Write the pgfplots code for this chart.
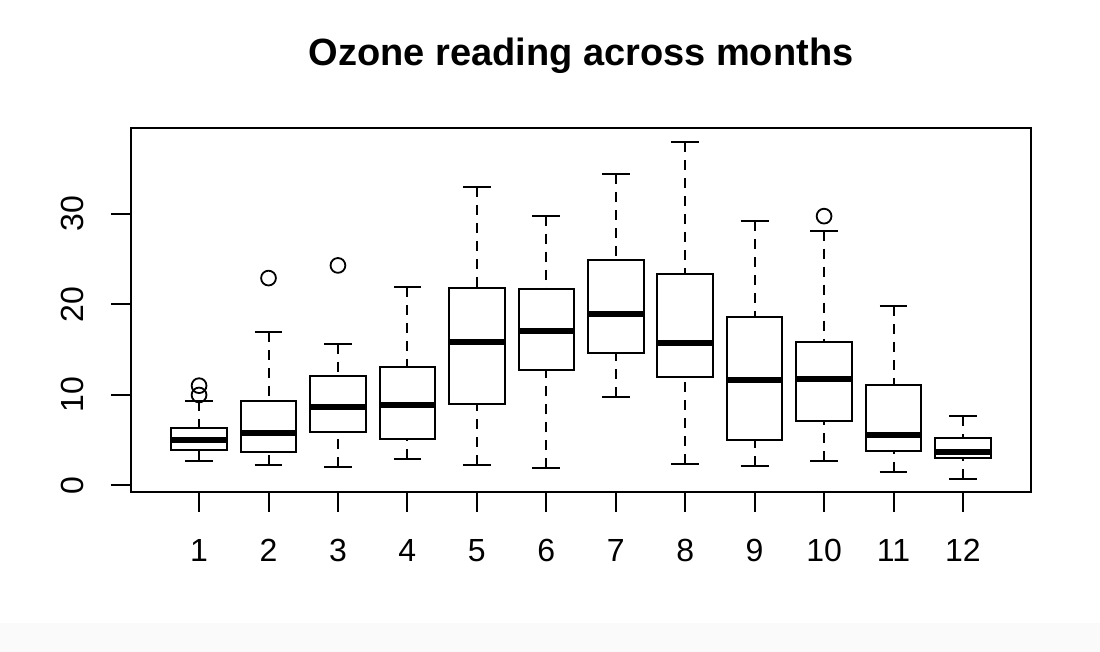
\documentclass[border=0pt]{standalone}
\usepackage{fontspec}
\setmainfont{Liberation Sans}
\usepackage{pgfplots}
\pgfplotsset{compat=1.18}
\usepgfplotslibrary{statistics}

\pgfplotsset{
  rbox/.style={draw=black, line width=1bp, solid, fill=none,
    mark=o, mark size=3.7bp, mark options={solid, draw=black, fill=none, line width=0.9bp}},
}

\begin{document}
\begin{tikzpicture}
\useasboundingbox (0,0) rectangle (550bp,326bp);
\fill[black!2] (0,0) rectangle (550bp,14.5bp);
\begin{axis}[
  at={(65.5bp,80bp)}, anchor=south west,
  width=450bp, height=182bp, scale only axis,
  xmin=0.02, xmax=12.98, ymin=-0.76, ymax=39.5,
  xtick={1,2,3,4,5,6,7,8,9,10,11,12}, ytick={0,10,20,30},
  xtick pos=left, ytick pos=left,
  tick align=outside, major tick length=10bp,
  every tick/.style={black, line width=1bp},
  axis line style={line width=1bp},
  tick label style={font=\fontsize{16bp}{19bp}\selectfont},
  /pgf/number format/assume math mode=true,
  xticklabel style={anchor=base, yshift=-24.8bp},
  yticklabel style={rotate=90, anchor=base, yshift=13.8bp},
  title={Ozone reading across months},
  title style={font=\bfseries\fontsize{19bp}{23bp}\selectfont, at={(0.5,1)}, anchor=base, yshift=25.5bp},
  boxplot/draw direction=y,
  boxplot/box extend=0.8,
  boxplot/whisker extend=0.4,
  boxplot/draw/median/.code={%
    \draw[line width=3bp, solid] (boxplot box cs:\pgfplotsboxplotvalue{median},0) -- (boxplot box cs:\pgfplotsboxplotvalue{median},1);},
  boxplot/draw/lower whisker/.code={%
    \draw[line width=1bp, dash pattern=on 5bp off 4bp] (boxplot cs:\pgfplotsboxplotvalue{lower whisker}) -- (boxplot cs:\pgfplotsboxplotvalue{lower quartile});
    \draw[line width=1bp, solid] (boxplot whisker cs:\pgfplotsboxplotvalue{lower whisker},0) -- (boxplot whisker cs:\pgfplotsboxplotvalue{lower whisker},1);},
  boxplot/draw/upper whisker/.code={%
    \draw[line width=1bp, dash pattern=on 5bp off 4bp] (boxplot cs:\pgfplotsboxplotvalue{upper whisker}) -- (boxplot cs:\pgfplotsboxplotvalue{upper quartile});
    \draw[line width=1bp, solid] (boxplot whisker cs:\pgfplotsboxplotvalue{upper whisker},0) -- (boxplot whisker cs:\pgfplotsboxplotvalue{upper whisker},1);},
]
% month 1
\addplot[rbox, boxplot prepared={draw position=1, lower whisker=2.72, lower quartile=3.9, median=4.94, upper quartile=6.27, upper whisker=9.33}]
  table[row sep=\\, y index=0] {v\\ 11.0\\ 9.97\\};
% month 2
\addplot[rbox, boxplot prepared={draw position=2, lower whisker=2.21, lower quartile=3.65, median=5.82, upper quartile=9.26, upper whisker=16.9}]
  table[row sep=\\, y index=0] {v\\ 22.9\\};
% month 3
\addplot[rbox, boxplot prepared={draw position=3, lower whisker=2.0, lower quartile=5.9, median=8.62, upper quartile=12.1, upper whisker=15.65}]
  table[row sep=\\, y index=0] {v\\ 24.3\\};
% month 4
\addplot[rbox, boxplot prepared={draw position=4, lower whisker=2.91, lower quartile=5.13, median=8.9, upper quartile=13.1, upper whisker=21.9}]
  coordinates {};
% month 5
\addplot[rbox, boxplot prepared={draw position=5, lower whisker=2.28, lower quartile=8.97, median=15.87, upper quartile=21.8, upper whisker=33.0}]
  coordinates {};
% month 6
\addplot[rbox, boxplot prepared={draw position=6, lower whisker=1.84, lower quartile=12.77, median=17.0, upper quartile=21.7, upper whisker=29.8}]
  coordinates {};
% month 7
\addplot[rbox, boxplot prepared={draw position=7, lower whisker=9.78, lower quartile=14.65, median=18.94, upper quartile=24.95, upper whisker=34.36}]
  coordinates {};
% month 8
\addplot[rbox, boxplot prepared={draw position=8, lower whisker=2.36, lower quartile=11.99, median=15.76, upper quartile=23.32, upper whisker=37.94}]
  coordinates {};
% month 9
\addplot[rbox, boxplot prepared={draw position=9, lower whisker=2.14, lower quartile=4.98, median=11.66, upper quartile=18.56, upper whisker=29.19}]
  coordinates {};
% month 10
\addplot[rbox, boxplot prepared={draw position=10, lower whisker=2.7, lower quartile=7.12, median=11.74, upper quartile=15.87, upper whisker=28.16}]
  table[row sep=\\, y index=0] {v\\ 29.75\\};
% month 11
\addplot[rbox, boxplot prepared={draw position=11, lower whisker=1.44, lower quartile=3.8, median=5.5, upper quartile=11.03, upper whisker=19.78}]
  coordinates {};
% month 12
\addplot[rbox, boxplot prepared={draw position=12, lower whisker=0.73, lower quartile=3.0, median=3.69, upper quartile=5.16, upper whisker=7.67}]
  coordinates {};
\end{axis}
\end{tikzpicture}
\end{document}
